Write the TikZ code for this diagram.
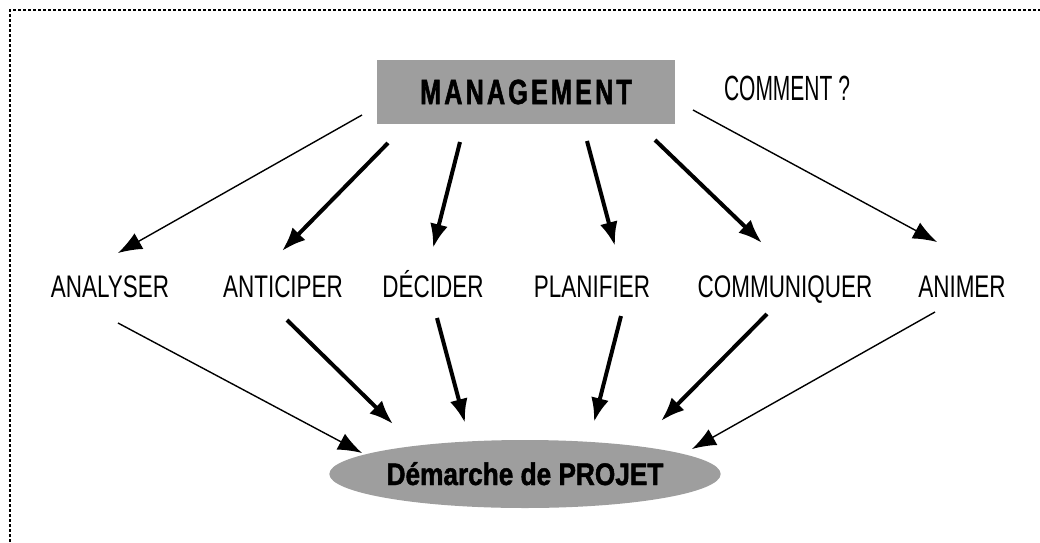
\documentclass[tikz,border=0pt]{standalone}
\usepackage{fontspec}
\setmainfont{Liberation Sans}
\newfontfamily\condfont{Liberation Sans}[FakeStretch=0.72]
\newfontfamily\askfont{Liberation Sans}[FakeStretch=0.6]
\newfontfamily\spacedfont{Liberation Sans Bold}[FakeStretch=0.72,LetterSpace=9,FakeBold=1.5]
\newfontfamily\ovalfont{Liberation Sans Bold}[FakeStretch=0.84,FakeBold=1.5]
\usetikzlibrary{arrows.meta,shapes.geometric}

\begin{document}
\begin{tikzpicture}[x=0.5pt, y=-0.5pt]
		\tikzstyle{verb}=[inner sep=0pt, text height=11pt, text depth=0pt, font=\condfont\fontsize{15.6}{18}\selectfont]
		\tikzstyle{thinarrow}=[-{Latex[length=12pt,width=9pt]}, line width=0.7pt]
		\tikzstyle{thickarrow}=[-{Latex[length=12pt,width=9pt]}, line width=2pt]
		\useasboundingbox (0,0) rectangle (1040,542);
		\draw[line width=1pt, dash pattern=on 1.5pt off 1pt] (10,542) -- (10,10) -- (1040,10);
		% top
		\node[fill=black!38, minimum width=149pt, minimum height=32pt, inner sep=0pt,
		      font=\spacedfont\fontsize{17.5}{20}\selectfont] (mgmt) at (526,92) {MANAGEMENT};
		\node[inner sep=0pt, text height=12.5pt, text depth=0pt,
		      font=\askfont\fontsize{17.5}{20}\selectfont] (comment) at (787,88) {COMMENT ?};
		% verbs
		\node[verb] (analyser) at (110,286) {ANALYSER};
		\node[verb] (anticiper) at (283,286) {ANTICIPER};
		\node[verb] (decider) at (433,286) {DÉCIDER};
		\node[verb] (planifier) at (592,286) {PLANIFIER};
		\node[verb] (communiquer) at (785,286) {COMMUNIQUER};
		\node[verb] (animer) at (962,286) {ANIMER};
		% bottom
		\node[ellipse, fill=black!38, minimum width=150pt, minimum height=34pt, inner sep=0pt,
		      text height=11pt, text depth=0pt,
		      font=\ovalfont\fontsize{15.6}{18}\selectfont] (projet) at (525,474) {Démarche de PROJET};
		\draw[thinarrow] ([shift={(-164,23)}]mgmt.center) -- ([shift={(8,-33)}]analyser.center);
		\draw[thickarrow] ([shift={(-138,51)}]mgmt.center) -- ([shift={(-1,-35)}]anticiper.center);
		\draw[thickarrow] ([shift={(-66,50)}]mgmt.center) -- ([shift={(0,-38)}]decider.center);
		\draw[thickarrow] ([shift={(61,49)}]mgmt.center) -- ([shift={(23,-40)}]planifier.center);
		\draw[thickarrow] ([shift={(129,48)}]mgmt.center) -- ([shift={(-23,-43)}]communiquer.center);
		\draw[thinarrow] ([shift={(167,18)}]mgmt.center) -- ([shift={(-25,-44)}]animer.center);
		\draw[thinarrow] ([shift={(8,37)}]analyser.center) -- ([shift={(-163,-21)}]projet.center);
		\draw[thickarrow] ([shift={(4,34)}]anticiper.center) -- ([shift={(-132,-50)}]projet.center);
		\draw[thickarrow] ([shift={(4,32)}]decider.center) -- ([shift={(-60,-51)}]projet.center);
		\draw[thickarrow] ([shift={(29,30)}]planifier.center) -- ([shift={(69,-52)}]projet.center);
		\draw[thickarrow] ([shift={(-18,28)}]communiquer.center) -- ([shift={(136,-53)}]projet.center);
		\draw[thinarrow] ([shift={(-27,26)}]animer.center) -- ([shift={(167,-25)}]projet.center);
\end{tikzpicture}
\end{document}
